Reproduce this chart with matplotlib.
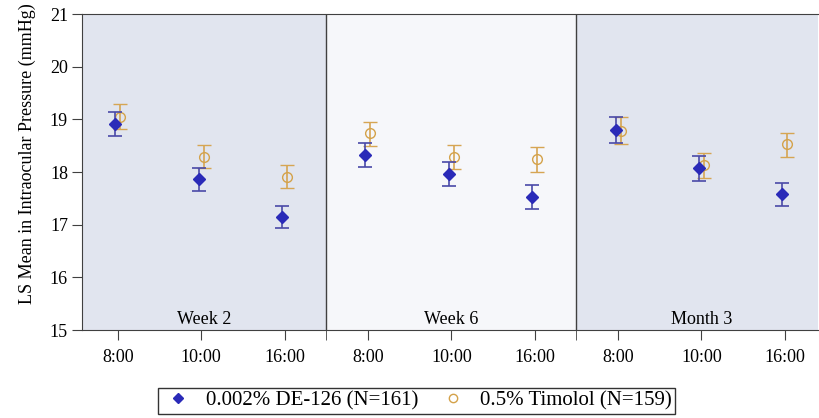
import matplotlib
matplotlib.use("Agg")
import matplotlib.pyplot as plt
import numpy as np

# データ
visits = ["Week 2", "Week 6", "Month 3"]
times = ["8:00", "10:00", "16:00"]

de_mean = [18.91, 17.86, 17.15, 18.33, 17.97, 17.52, 18.80, 18.07, 17.59]
de_lo = [18.69, 17.65, 16.94, 18.09, 17.74, 17.29, 18.55, 17.84, 17.36]
de_hi = [19.15, 18.07, 17.36, 18.55, 18.20, 17.75, 19.04, 18.31, 17.80]

tim_mean = [19.05, 18.29, 17.91, 18.74, 18.29, 18.25, 18.78, 18.14, 18.53]
tim_lo = [18.81, 18.07, 17.70, 18.50, 18.05, 18.01, 18.54, 17.88, 18.29]
tim_hi = [19.29, 18.51, 18.13, 18.96, 18.52, 18.48, 19.04, 18.37, 18.75]

de_label = "0.002% DE-126 (N=161)"
tim_label = "0.5% Timolol (N=159)"

plt.rcParams["font.family"] = ["Liberation Serif", "DejaVu Serif"]
plt.rcParams["font.size"] = 13

fig = plt.figure(figsize=(8.19, 4.18), dpi=100)
ax = fig.add_axes([0.100, 0.2105, 0.899, 0.7555])

x = np.arange(len(de_mean))
xlo, xhi = -0.43, 8.4

# 背景パネル
shade = ["#e1e5ef", "#f6f7fa", "#e1e5ef"]
edges = [xlo, 2.5, 5.5, xhi]
for i, v in enumerate(visits):
    ax.axvspan(edges[i], edges[i + 1], color=shade[i], zorder=0, lw=0)
    ax.text((edges[i] + edges[i + 1]) / 2 if i < 2 else 7.0, 15.03, v,
            ha="center", va="bottom", fontsize=13)
for b in [2.5, 5.5]:
    ax.axvline(b, color="#404040", lw=1.0, zorder=1)

de = np.array(de_mean)
tim = np.array(tim_mean)
ax.errorbar(x - 0.03, de, yerr=[de - np.array(de_lo), np.array(de_hi) - de],
            fmt="D", color="#2a2ab8", ecolor="#4a4aa8", markersize=6,
            capsize=5, elinewidth=1.2, capthick=1.2, zorder=3)
ax.errorbar(x + 0.03, tim, yerr=[tim - np.array(tim_lo), np.array(tim_hi) - tim],
            fmt="o", mfc="none", mec="#d4a24a", ecolor="#d6a552", markersize=7,
            capsize=5, elinewidth=1.2, capthick=1.2, mew=1.0, zorder=2)

ax.set_xlim(xlo, xhi)
ax.set_ylim(15, 21)
ax.set_xticks(x)
ax.set_xticklabels(times * 3)
ax.set_xticks([2.5, 5.5], minor=True)
ax.set_yticks(range(15, 22))
ax.tick_params(axis="both", which="both", direction="out", length=7, color="#404040")
ax.tick_params(axis="x", pad=7)
ax.tick_params(axis="y", pad=3)
ax.spines["right"].set_visible(False)
for s in ["left", "top", "bottom"]:
    ax.spines[s].set_color("#404040")
ax.set_ylabel("LS Mean in Intraocular Pressure (mmHg)", fontsize=13)
ax.yaxis.set_label_coords(-0.063, 0.56)

# 凡例
h1 = plt.Line2D([], [], marker="D", ls="none", color="#2a2ab8", markersize=5)
h2 = plt.Line2D([], [], marker="o", ls="none", mfc="none", mec="#d4a24a", markersize=6)
leg = fig.legend([h1, h2], [de_label, tim_label], loc="center",
                 bbox_to_anchor=(0.509, 0.041), ncol=2, frameon=True,
                 fancybox=False, edgecolor="black", fontsize=15,
                 handletextpad=0.53, columnspacing=0.85, borderpad=0.15,
                 handlelength=1.6, borderaxespad=0)
leg.get_frame().set_linewidth(1.0)

plt.savefig("out.png", dpi=100)
